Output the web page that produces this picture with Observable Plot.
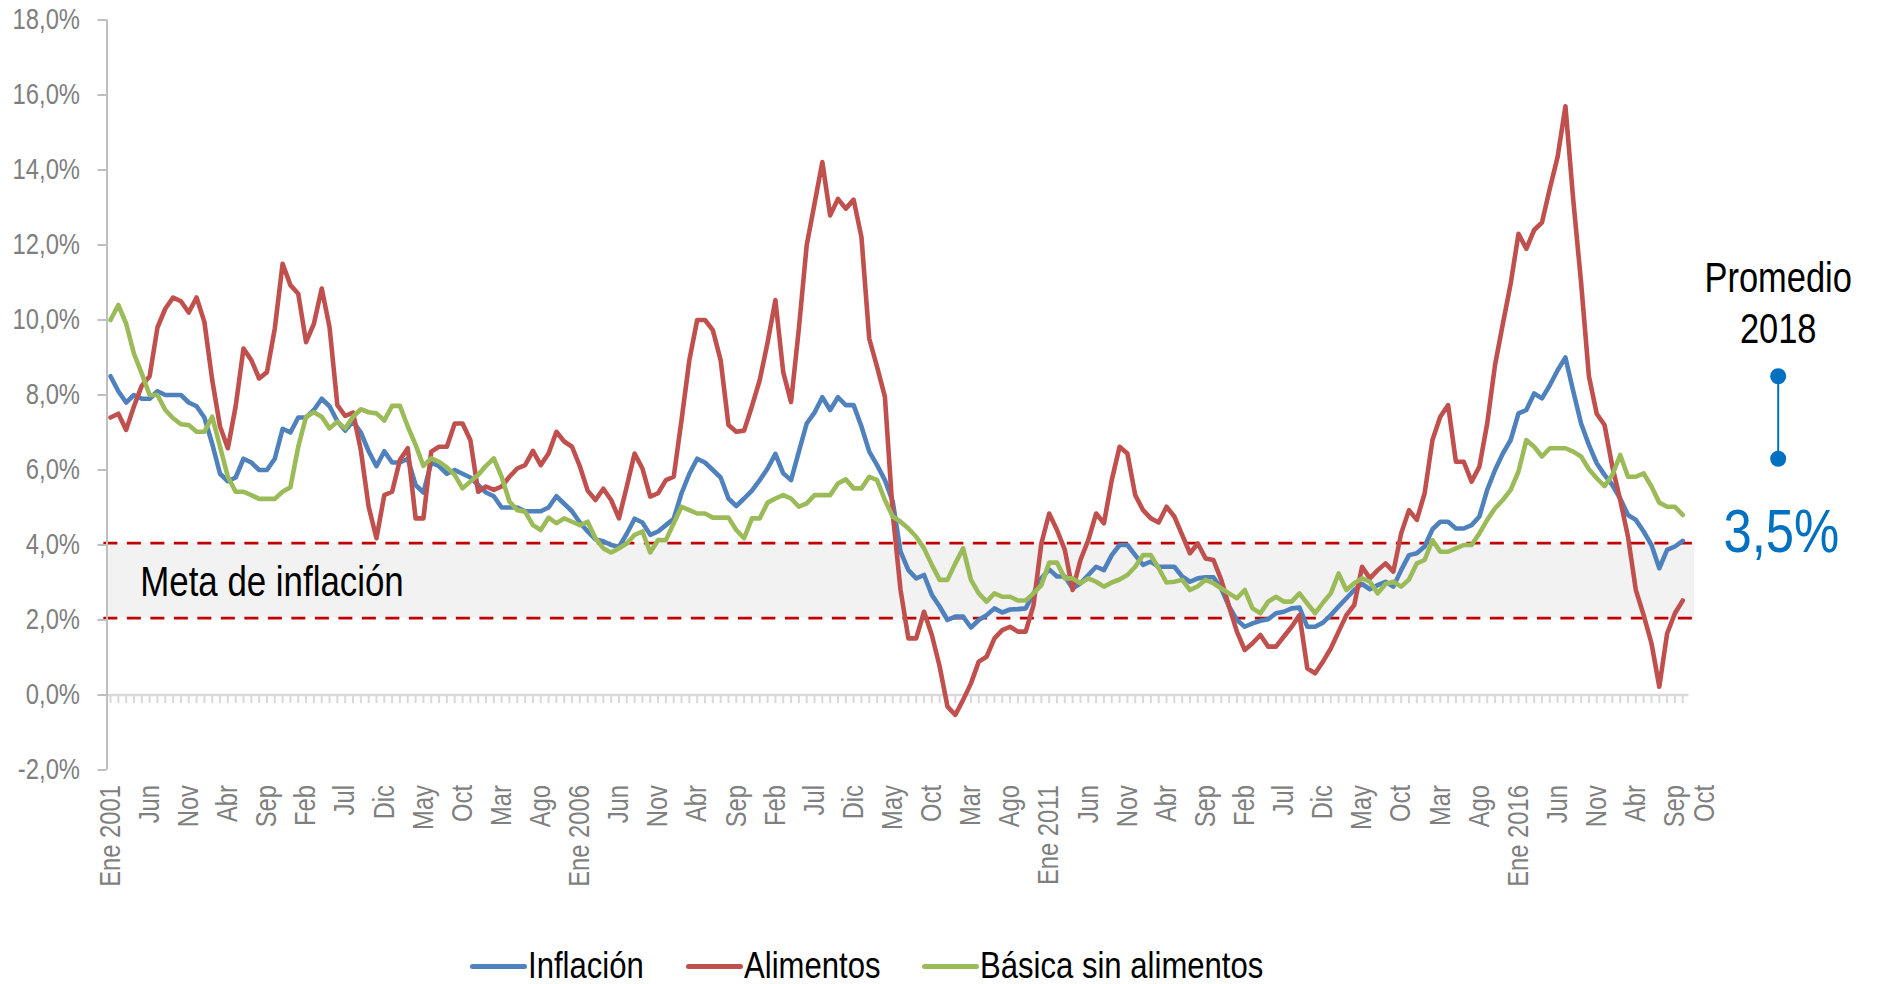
<!DOCTYPE html>
<html><head><meta charset="utf-8">
<script src="https://cdn.jsdelivr.net/npm/d3@7"></script>
<script src="https://cdn.jsdelivr.net/npm/@observablehq/plot@0.6"></script>
<style>
html,body{margin:0;padding:0;background:#fff;}
#wrap{position:relative;width:1877px;height:984px;overflow:hidden;background:#fff;}
#legend{position:absolute;left:470px;top:943px;height:46px;display:flex;align-items:center;font-size:37px;color:#000;white-space:nowrap;}
.item{display:flex;align-items:center;margin-right:42px;}
.sw{display:inline-block;width:57px;height:5px;border-radius:3px;margin-right:1px;}
.lt{display:inline-block;transform:scaleX(0.84);transform-origin:0 50%;}
</style></head>
<body><div id="wrap"><div id="chart"></div><div id="legend"></div></div>
<script>
const FONT = '"Liberation Sans Narrow", "Arial Narrow", "Liberation Sans", Arial, sans-serif';
const NARROW = 0.82; // the reference uses a condensed typeface
const NARROW_LEGEND = 0.84;

// Monthly series, Ene 2001 .. Oct 2017 (annual % change)
const inflacion = [
  8.5, 8.1, 7.8, 8.0, 7.9, 7.9, 8.1, 8.0, 8.0, 8.0, 7.8, 7.7,
  7.4, 6.7, 5.9, 5.7, 5.8, 6.3, 6.2, 6.0, 6.0, 6.3, 7.1, 7.0,
  7.4, 7.4, 7.6, 7.9, 7.7, 7.3, 7.05, 7.3, 7.0, 6.5, 6.1, 6.5,
  6.2, 6.2, 6.3, 5.6, 5.4, 6.2, 6.1, 5.9, 6.0, 5.9, 5.8, 5.6,
  5.4, 5.3, 5.0, 5.0, 5.0, 4.9, 4.9, 4.9, 5.0, 5.3, 5.1, 4.9,
  4.6, 4.36, 4.15, 4.1, 4.0, 3.95, 4.3, 4.7, 4.6, 4.27, 4.36, 4.53,
  4.7, 5.38, 5.9, 6.3, 6.2, 6.0, 5.8, 5.24, 5.04, 5.24, 5.45, 5.73,
  6.04, 6.43, 5.91, 5.73, 6.49, 7.24, 7.53, 7.94, 7.6, 7.94, 7.73, 7.73,
  7.16, 6.49, 6.13, 5.73, 5.16, 3.82, 3.33, 3.11, 3.2, 2.67, 2.36, 2.0,
  2.09, 2.09, 1.8, 2.0, 2.13, 2.31, 2.2, 2.28, 2.29, 2.31, 2.71, 3.11,
  3.35, 3.16, 3.16, 2.84, 2.98, 3.2, 3.42, 3.33, 3.73, 4.0, 4.0, 3.73,
  3.47, 3.56, 3.42, 3.42, 3.42, 3.16, 3.02, 3.11, 3.14, 3.14, 2.84, 2.36,
  2.0, 1.82, 1.91, 1.98, 2.02, 2.18, 2.22, 2.31, 2.33, 1.82, 1.82, 1.93,
  2.13, 2.36, 2.58, 2.8, 2.96, 2.82, 2.93, 3.02, 2.89, 3.33, 3.73, 3.78,
  3.96, 4.42, 4.62, 4.62, 4.44, 4.44, 4.53, 4.76, 5.47, 6.0, 6.44, 6.8,
  7.51, 7.6, 8.04, 7.91, 8.26, 8.66, 9.0, 8.1, 7.24, 6.67, 6.18, 5.87,
  5.6, 5.24, 4.8, 4.67, 4.36, 4.0, 3.38, 3.87, 3.96, 4.11
];
const alimentos = [
  7.4, 7.5, 7.07, 7.7, 8.25, 8.5, 9.8, 10.3, 10.6, 10.5, 10.2, 10.6,
  9.95, 8.4, 7.16, 6.58, 7.7, 9.24, 8.93, 8.44, 8.61, 9.77, 11.5, 10.93,
  10.7, 9.41, 9.9, 10.84, 9.81, 7.73, 7.44, 7.53, 6.53, 5.02, 4.18, 5.33,
  5.42, 6.27, 6.58, 4.71, 4.71, 6.49, 6.62, 6.62, 7.24, 7.24, 6.8, 5.42,
  5.56, 5.47, 5.56, 5.82, 6.04, 6.13, 6.51, 6.13, 6.44, 7.02, 6.76, 6.62,
  6.1, 5.45, 5.2, 5.5, 5.2, 4.71, 5.56, 6.44, 6.04, 5.29, 5.38, 5.73,
  5.82, 7.33, 8.93, 10.0, 10.0, 9.73, 8.93, 7.2, 7.02, 7.05, 7.7, 8.4,
  9.4, 10.53, 8.61, 7.81, 9.77, 11.99, 13.1, 14.21, 12.79, 13.23, 12.97, 13.21,
  12.21, 9.5, 8.75, 7.95, 4.84, 2.8, 1.51, 1.51, 2.22, 1.6, 0.76, -0.31,
  -0.53, -0.13, 0.31, 0.89, 1.02, 1.51, 1.73, 1.82, 1.69, 1.69, 2.4, 4.04,
  4.84, 4.4, 3.87, 2.8, 3.6, 4.13, 4.84, 4.58, 5.73, 6.62, 6.44, 5.33,
  4.93, 4.71, 4.6, 5.02, 4.76, 4.27, 3.78, 4.04, 3.64, 3.6, 3.07, 2.36,
  1.69, 1.2, 1.38, 1.6, 1.29, 1.29, 1.56, 1.82, 2.13, 0.71, 0.58, 0.89,
  1.24, 1.69, 2.13, 2.4, 3.42, 3.11, 3.33, 3.51, 3.29, 4.31, 4.93, 4.67,
  5.38, 6.8, 7.42, 7.73, 6.22, 6.22, 5.69, 6.09, 7.24, 8.8, 9.9, 10.97,
  12.3, 11.9, 12.4, 12.6, 13.5, 14.35, 15.7, 13.2, 11.0, 8.5, 7.5, 7.2,
  6.09, 5.2, 4.22, 2.8, 2.13, 1.38, 0.22, 1.64, 2.18, 2.52
];
const basica = [
  10.0, 10.4, 9.9, 9.1, 8.57, 8.0, 8.0, 7.6, 7.38, 7.22, 7.2, 7.02,
  7.02, 7.42, 6.62, 5.82, 5.42, 5.42, 5.33, 5.23, 5.23, 5.23, 5.42, 5.54,
  6.62, 7.42, 7.54, 7.42, 7.11, 7.29, 7.11, 7.42, 7.62, 7.54, 7.51, 7.32,
  7.71, 7.71, 7.16, 6.67, 6.11, 6.31, 6.22, 6.07, 5.87, 5.51, 5.69, 5.87,
  6.11, 6.31, 5.82, 5.16, 4.93, 4.89, 4.53, 4.4, 4.73, 4.58, 4.71, 4.62,
  4.53, 4.62, 4.18, 3.91, 3.8, 3.91, 4.04, 4.27, 4.36, 3.8, 4.13, 4.13,
  4.58, 5.02, 4.93, 4.84, 4.84, 4.73, 4.73, 4.73, 4.4, 4.18, 4.71, 4.71,
  5.13, 5.24, 5.33, 5.24, 5.02, 5.11, 5.33, 5.33, 5.33, 5.64, 5.75, 5.51,
  5.51, 5.82, 5.73, 5.2, 4.76, 4.62, 4.44, 4.22, 3.91, 3.47, 3.07, 3.07,
  3.51, 3.91, 3.07, 2.71, 2.49, 2.71, 2.62, 2.62, 2.52, 2.52, 2.71, 2.93,
  3.53, 3.53, 3.11, 3.11, 2.98, 3.11, 3.02, 2.89, 3.0, 3.08, 3.2, 3.42,
  3.73, 3.73, 3.38, 3.0, 3.02, 3.07, 2.8, 2.9, 3.07, 2.98, 2.84, 2.71,
  2.58, 2.8, 2.31, 2.18, 2.49, 2.62, 2.49, 2.49, 2.71, 2.44, 2.18, 2.46,
  2.71, 3.24, 2.8, 2.98, 3.11, 3.02, 2.71, 2.96, 3.02, 2.89, 3.08, 3.51,
  3.6, 4.13, 3.82, 3.82, 3.91, 4.0, 4.0, 4.31, 4.67, 4.98, 5.2, 5.47,
  5.96, 6.8, 6.62, 6.36, 6.58, 6.58, 6.58, 6.49, 6.36, 6.02, 5.78, 5.57,
  5.87, 6.4, 5.82, 5.82, 5.91, 5.56, 5.13, 5.02, 5.02, 4.8
];

// Category-axis labels (month index from Ene 2001) and their text
const xTickAt = [0,5,10,15,20,25,30,35,40,45,50,55,60,65,70,75,80,85,90,95,100,105,110,115,
  120,125,130,135,140,145,150,155,160,165,170,175,180,185,190,195,200,203.8];
const xTickLabels = ["Ene 2001","Jun","Nov","Abr","Sep","Feb","Jul","Dic","May","Oct","Mar","Ago",
  "Ene 2006","Jun","Nov","Abr","Sep","Feb","Jul","Dic","May","Oct","Mar","Ago",
  "Ene 2011","Jun","Nov","Abr","Sep","Feb","Jul","Dic","May","Oct","Mar","Ago",
  "Ene 2016","Jun","Nov","Abr","Sep","Oct"];
const yTicks = [-2, 0, 2, 4, 6, 8, 10, 12, 14, 16, 18];

// Inflation target band (meta) and annotations
const metaRango = [2.05, 4.05];
const metaTexto = [{label: "Meta de inflación", x: 3.8, y: 3.0}];
const promedioX = [213.2];
const promedioRango = [6.3, 8.5];
const promedioTitulo = [{label: "Promedio\n2018", x: 213.2, y: 10.5}];
const promedioValor = [{label: "3,5%", x: 213.6, y: 4.35}];

const series = [
  {name: "Inflación", values: inflacion, color: "#4f81bd"},
  {name: "Alimentos", values: alimentos, color: "#c0504d"},
  {name: "Básica sin alimentos", values: basica, color: "#9bbb59"}
];

const xDomain = [-0.45, 202.5];
const lastIdx = inflacion.length - 1;
const labelMap = new Map(xTickAt.map((d, i) => [d, xTickLabels[i]]));
const fmtPct = d => d.toFixed(1).replace(".", ",") + "%";

const chart = Plot.plot({
  width: 1877,
  height: 920,
  marginLeft: 106.5,
  marginRight: 183,
  marginTop: 19.5,
  marginBottom: 150.5,
  x: {domain: xDomain},
  y: {domain: [-2, 18]},
  style: {fontFamily: FONT, background: "#fff", overflow: "visible"},
  marks: [
    Plot.rect([metaRango], {x1: xDomain[0], x2: xDomain[1], y1: d => d[0], y2: d => d[1], fill: "#f2f2f2"}),
    Plot.ruleY(metaRango, {x1: -0.85, x2: 203.2, stroke: "#c00000", strokeWidth: 2.6, strokeDasharray: "14,9.5"}),
    Plot.ruleX(d3.range(0, lastIdx + 1), {x: d => d, y1: 0, y2: -0.23, stroke: "#d9d9d9", strokeWidth: 2}),
    Plot.ruleY([0], {x1: xDomain[0], x2: lastIdx + 0.8, stroke: "#d9d9d9", strokeWidth: 2.5}),
    Plot.ruleX([xDomain[0]], {y1: -2, y2: 18, stroke: "#bfbfbf", strokeWidth: 2}),
    Plot.axisY(yTicks, {tickSize: 9, tickPadding: 18, stroke: "#bfbfbf", strokeWidth: 2, fill: "#7f7f7f",
      fontSize: 29, tickFormat: fmtPct, label: null}),
    Plot.axisX(xTickAt, {tickFormat: d => labelMap.get(d), tickRotate: -90, tickSize: 0, tickPadding: 15,
      fontSize: 29, fill: "#7f7f7f", label: null}),
    ...series.map(s => Plot.lineY(s.values, {x: (d, i) => i, y: d => d, stroke: s.color, strokeWidth: 4.6,
      strokeLinejoin: "round", strokeLinecap: "round"})),
    Plot.text(metaTexto, {x: "x", y: "y", text: "label", textAnchor: "start", fontSize: 42.5, fill: "#000"}),
    Plot.ruleX(promedioX, {x: d => d, y1: promedioRango[0], y2: promedioRango[1], stroke: "#0070c0", strokeWidth: 2}),
    Plot.dot(promedioRango, {x: promedioX[0], y: d => d, r: 8, fill: "#0070c0", stroke: "none"}),
    Plot.text(promedioTitulo, {x: "x", y: "y", text: "label", fontSize: 42, lineHeight: 1.2, fill: "#000"}),
    Plot.text(promedioValor, {x: "x", y: "y", text: "label", fontSize: 62, fill: "#0070c0"})
  ]
});
document.getElementById("chart").appendChild(chart);

// Condense every SVG text horizontally (along its baseline)
function condense(el) {
  const len = el.getComputedTextLength();
  if (len > 0) {
    el.setAttribute("textLength", (len * NARROW).toFixed(2));
    el.setAttribute("lengthAdjust", "spacingAndGlyphs");
  }
}
chart.querySelectorAll("text").forEach(t => {
  const spans = t.querySelectorAll("tspan");
  if (spans.length) spans.forEach(condense); else condense(t);
});

const legend = document.getElementById("legend");
legend.style.fontFamily = FONT;
series.forEach(s => {
  const item = document.createElement("div");
  item.className = "item";
  const sw = document.createElement("span");
  sw.className = "sw";
  sw.style.background = s.color;
  const t = document.createElement("span");
  t.className = "lt";
  t.textContent = s.name;
  item.appendChild(sw);
  item.appendChild(t);
  legend.appendChild(item);
  const w = t.getBoundingClientRect().width / NARROW_LEGEND;
  t.style.marginRight = (-(w * (1 - NARROW_LEGEND))).toFixed(1) + "px";
});
</script>
</body></html>
